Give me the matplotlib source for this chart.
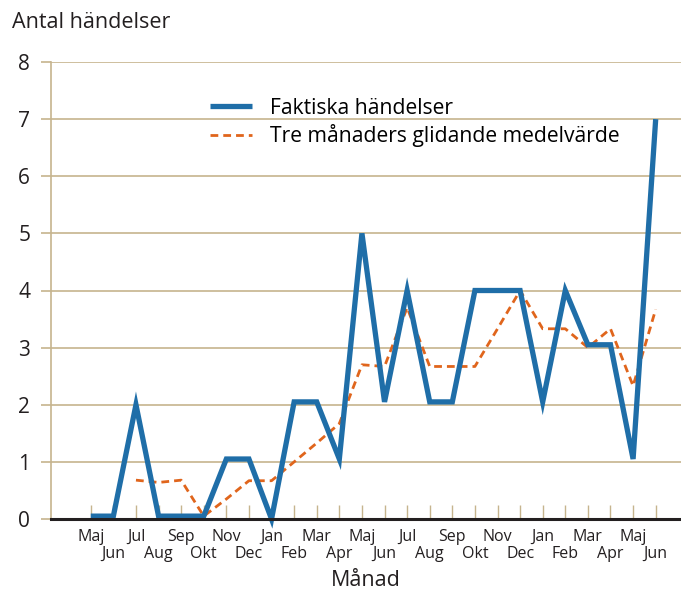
import matplotlib
matplotlib.use("Agg")
import matplotlib.pyplot as plt
from matplotlib.patches import Rectangle

plt.rcParams["font.family"] = ["Open Sans", "DejaVu Sans"]

# ------------------------------------------------------------------ data
months = ["Maj", "Jun", "Jul", "Aug", "Sep", "Okt", "Nov", "Dec", "Jan",
          "Feb", "Mar", "Apr", "Maj", "Jun", "Jul", "Aug", "Sep", "Okt",
          "Nov", "Dec", "Jan", "Feb", "Mar", "Apr", "Maj", "Jun"]
actual = [0.05, 0.05, 2, 0.05, 0.05, 0.05, 1.05, 1.05, 0, 2.05, 2.05, 1.05,
          5, 2.05, 4, 2.05, 2.05, 4, 4, 4, 2.05, 4, 3.05, 3.05, 1.05, 7]
# moving average starts at the third month (Jul)
avg_start = 2
moving_avg = [0.68, 0.64, 0.68, 0.05, 0.35, 0.67, 0.67, 1.0, 1.33, 1.67,
              2.7, 2.67, 3.7, 2.67, 2.67, 2.67, 3.33, 4.0, 3.33, 3.33,
              3.0, 3.33, 2.33, 3.67]
yticks = [0, 1, 2, 3, 4, 5, 6, 7, 8]

BLUE = "#1f6ea8"
ORANGE = "#e0651c"
TAN = "#c6b48e"
DARK = "#231f20"

fig = plt.figure(figsize=(6.81, 5.90), dpi=100)
ax = fig.add_axes([51 / 681, 1 - 519 / 590, 630 / 681, 457 / 590])

x = list(range(len(months)))
ax.plot(x, actual, color=BLUE, lw=3.8, solid_joinstyle="miter",
        solid_capstyle="butt", zorder=4, clip_on=False,
        label="Faktiska händelser")
ax.plot(x[avg_start:], moving_avg, color=ORANGE, lw=2.0, ls=(0, (2.8, 1.8)),
        zorder=3, clip_on=False, label="Tre månaders glidande medelvärde")

ax.set_xlim(-1.76, len(months) - 1 + 1.12)
ax.set_ylim(0, 8)

ax.set_yticks(yticks)
ax.set_yticklabels([str(v) for v in yticks], fontsize=15)

# two rows of month labels: even positions on top row, odd on bottom row
ax.set_xticks(x[0::2])
ax.set_xticklabels(months[0::2], fontsize=11.5, color=DARK)
ax.set_xticks(x[1::2], minor=True)
ax.set_xticklabels(months[1::2], minor=True, fontsize=11.5, color=DARK)

ax.grid(axis="y", color=TAN, lw=1.2, zorder=0)
ax.tick_params(axis="y", direction="out", length=7, width=1.2, color=TAN,
               pad=8, labelcolor=DARK)
ax.tick_params(axis="x", which="major", direction="in", length=10, width=1.0,
               color=TAN, pad=7)
ax.tick_params(axis="x", which="minor", direction="in", length=10, width=1.0,
               color=TAN, pad=19.5)

for s in ["top", "right"]:
    ax.spines[s].set_visible(False)
ax.spines["left"].set_color(TAN)
ax.spines["left"].set_linewidth(1.2)
ax.spines["bottom"].set_color(DARK)
ax.spines["bottom"].set_linewidth(2.2)
ax.spines["bottom"].set_zorder(5)

ax.set_xlabel("Månad", fontsize=15.5, color=DARK)
ax.xaxis.label.set_va("center")
ax.xaxis.set_label_coords(0.5, -61 / 457)
fig.text(12 / 681, 1 - 22 / 590, "Antal händelser", fontsize=15.5,
         color=DARK, va="center", ha="left")

# white panel behind the legend hides the grid line at 7
ax.add_patch(Rectangle((0.205, 0.775), 0.795, 0.214, transform=ax.transAxes,
                       facecolor="white", edgecolor="none", zorder=1.5))
leg = ax.legend(loc="upper left", bbox_to_anchor=(0.252, 0.922),
                borderaxespad=0, borderpad=0, fontsize=15.2, frameon=False,
                handlelength=2.0, handletextpad=0.85, labelspacing=0.25)
leg.set_zorder(2)

fig.savefig("out.png", dpi=100)
